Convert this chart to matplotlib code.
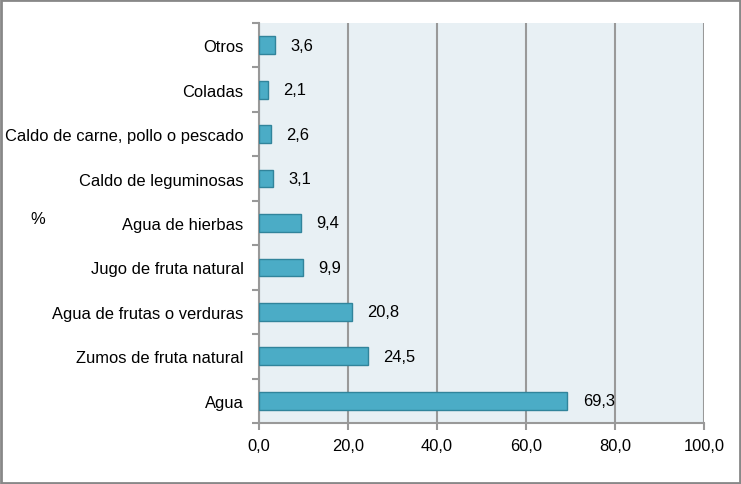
import matplotlib.pyplot as plt
from matplotlib.patches import Rectangle

plt.rcParams['font.family'] = ['Liberation Sans', 'DejaVu Sans']

categories = ["Agua", "Zumos de fruta natural", "Agua de frutas o verduras",
              "Jugo de fruta natural", "Agua de hierbas", "Caldo de leguminosas",
              "Caldo de carne, pollo o pescado", "Coladas", "Otros"]
values = [69.3, 24.5, 20.8, 9.9, 9.4, 3.1, 2.6, 2.1, 3.6]
xticks = [0, 20, 40, 60, 80, 100]

fs = 11.9
fig = plt.figure(figsize=(7.41, 4.85), dpi=100)
ax = fig.add_axes([259 / 741, 1 - 424 / 485, 445 / 741, 400 / 485])
ax.set_facecolor('#e8f0f4')

pos = range(len(categories))
ax.barh(pos, values, height=0.4, color='#4bacc6', edgecolor='#31849b', linewidth=1, zorder=3)
for p, v in zip(pos, values):
    ax.annotate(f"{v:.1f}".replace('.', ','), (v, p), xytext=(11, 0),
                textcoords='offset points', va='center', ha='left', fontsize=fs)

ax.set_xlim(0, 100)
ax.set_ylim(-0.5, len(categories) - 0.5)
ax.set_xticks(xticks)
ax.set_xticklabels([f"{t:.1f}".replace('.', ',') for t in xticks], fontsize=fs)
ax.set_yticks(list(pos))
ax.set_yticklabels(categories, fontsize=fs)
ax.set_yticks([i - 0.5 for i in range(len(categories) + 1)], minor=True)
ax.tick_params(axis='y', which='major', length=0, pad=11)
ax.tick_params(axis='y', which='minor', length=5, color='#999999', width=1.5)
ax.tick_params(axis='x', length=5, color='#999999', width=1.5, pad=6)
ax.xaxis.grid(True, color='#999999', linewidth=1.5, zorder=1)

for s in ['top', 'right']:
    ax.spines[s].set_visible(False)
for s in ['left', 'bottom']:
    ax.spines[s].set_color('#999999')
    ax.spines[s].set_linewidth(1.5)

fig.text(38 / 741, 1 - 220 / 485, "%", fontsize=fs, ha='center', va='center')
fig.patches.append(Rectangle((0.001, 0.002), 0.997, 0.995, transform=fig.transFigure,
                             fill=False, edgecolor='#888888', linewidth=2))

fig.savefig("out.png", dpi=100)
